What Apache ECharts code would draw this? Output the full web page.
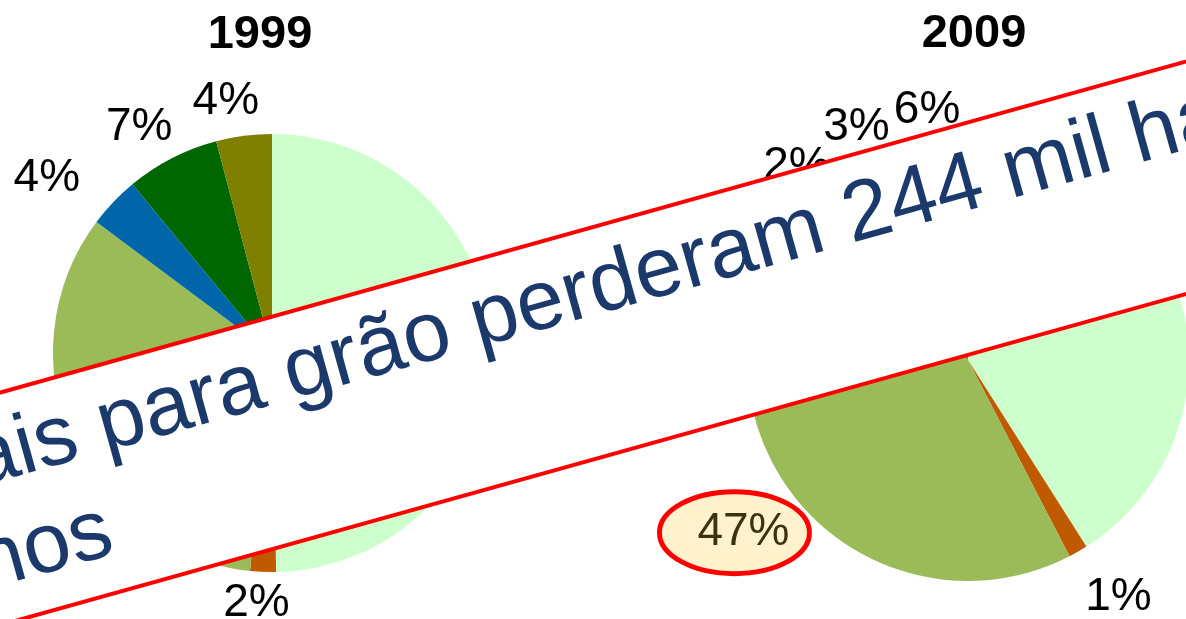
<!DOCTYPE html>
<html>
<head>
<meta charset="utf-8">
<title>Cereais para grão 1999 / 2009</title>
<script src="https://cdn.jsdelivr.net/npm/echarts@6/dist/echarts.min.js"></script>
<style>
html, body { margin: 0; padding: 0; background: #fff; }
#chart { width: 1186px; height: 619px; }
</style>
</head>
<body>
<div id="chart"></div>
<script>
// fatias pela ordem do relógio, a partir do topo
var categorias = ['Grupo 1', 'Grupo 2', 'Grupo 3', 'Grupo 4', 'Grupo 5', 'Grupo 6'];
var valores1999 = [49.7, 1.9, 33.6, 3.8, 6.9, 4.1];
var valores2009 = [41.0, 1.4, 46.7, 2.0, 3.0, 5.9];
var anos = ['1999', '2009'];
var linha1 = 'Cereais para grão perderam 244 mil ha em';
var linha2 = '10 anos';

var cores = ['#CCFFCC', '#C05A00', '#9BBB59', '#0066AA', '#006600', '#808000'];
var fonte = '"Liberation Sans", Arial, sans-serif';

// acertos finos das etiquetas (alinhamento e desvio em px)
var etiq1999 = [['center', 0, 0], ['center', 0, -7], ['center', 0, 0], ['right', 0, 3], ['center', -10, 4], ['center', -8, 4]];
var etiq2009 = [['center', 0, 0], ['center', 16, 12], ['center', 13, 14], ['center', -15, 18], ['center', 10, 0], ['center', 12, 6]];

// elipse de destaque (fundo da etiqueta)
var elipse = 'data:image/svg+xml;charset=utf-8,' + encodeURIComponent(
	'<svg xmlns="http://www.w3.org/2000/svg" width="156" height="88" viewBox="0 0 156 88">' +
	'<ellipse cx="78" cy="44" rx="75" ry="41" fill="#FFF2CC" stroke="#FF0000" stroke-width="5"/></svg>');

var chart = echarts.init(document.getElementById('chart'));

function dados(valores, destaque) {
	return valores.map(function (v, i) {
		var item = { name: categorias[i], value: v, itemStyle: { color: cores[i] } };
		if (i === destaque) {
			item.label = {
				color: '#3B3210',
				backgroundColor: { image: elipse },
				width: 102,
				height: 48,
				lineHeight: 48,
				padding: [20, 18, 20, 36]
			};
			item.labelLine = { length: 68 };
		}
		return item;
	});
}

function serie(valores, centro, raio, destaque, etiq) {
	return {
		type: 'pie',
		center: centro,
		radius: raio,
		startAngle: 90,
		clockwise: true,
		avoidLabelOverlap: false,
		animation: false,
		silent: true,
		label: {
			show: true,
			position: 'outside',
			formatter: function (p) { return Math.round(p.value) + '%'; },
			fontSize: 46,
			fontFamily: fonte,
			color: '#000'
		},
		labelLine: { show: false, length: 39, length2: 0 },
		labelLayout: function (p) {
			var e = etiq[p.dataIndex];
			return { align: e[0], dx: e[1], dy: e[2] };
		},
		itemStyle: { borderWidth: 0 },
		data: dados(valores, destaque)
	};
}

var estiloTitulo = { fontSize: 47, fontWeight: 'bold', color: '#000', fontFamily: fonte };

var option = {
	backgroundColor: '#fff',
	title: [
		{ text: anos[0], left: 255, top: 7, textAlign: 'center', textStyle: estiloTitulo },
		{ text: anos[1], left: 969, top: 6, textAlign: 'center', textStyle: estiloTitulo }
	],
	series: [
		serie(valores1999, [272, 353], 219, -1, etiq1999),
		serie(valores2009, [968, 360], 221, 2, etiq2009)
	],
	// faixa inclinada por cima dos gráficos
	graphic: {
		elements: [{
			type: 'group',
			x: 0,
			y: 392.6,
			rotation: 15.6 * Math.PI / 180,
			zlevel: 1,
			children: [
				{ type: 'rect', z: 100, zlevel: 1, shape: { x: -400, y: 0, width: 2000, height: 224 },
					style: { fill: '#fff', stroke: '#FF0000', lineWidth: 4 } },
				{ type: 'text', z: 101, zlevel: 1, x: -231, y: 61.5,
					style: { text: linha1, fontSize: 85, fontFamily: fonte, fill: '#1B3A6B', align: 'left', verticalAlign: 'middle' } },
				{ type: 'text', z: 101, zlevel: 1, x: -233, y: 162.5,
					style: { text: linha2, fontSize: 85, fontFamily: fonte, fill: '#1B3A6B', align: 'left', verticalAlign: 'middle' } }
			]
		}]
	}
};

chart.setOption(option);
</script>
</body>
</html>
